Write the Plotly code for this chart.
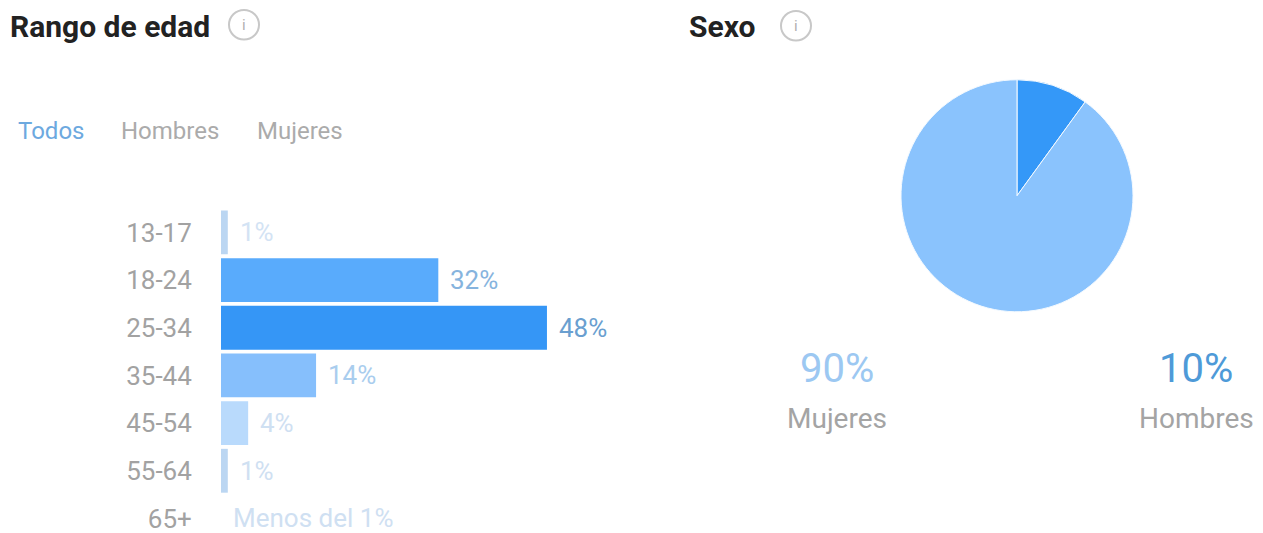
import plotly.graph_objects as go

WIDTH, HEIGHT = 1263, 533

# Age ranges (share of audience, %)
age_ranges = ["13-17", "18-24", "25-34", "35-44", "45-54", "55-64", "65+"]
age_values = [1, 32, 48, 14, 4, 1, 0]
age_labels = ["1%", "32%", "48%", "14%", "4%", "1%", "Menos del 1%"]
bar_colors = ["#BBD6F2", "#59ABFC", "#3596F6", "#86BFFC", "#B9DAFC", "#BBD6F2", "#BBD6F2"]
label_colors = ["#D3E3F4", "#86B4DE", "#6A9FD0", "#A9CDEE", "#CFE0F2", "#CFE0F2", "#CFE0F2"]

# Gender split (%)
sex_names = ["Hombres", "Mujeres"]
sex_values = [10, 90]
sex_colors = ["#3498F8", "#8AC3FD"]
sex_value_colors = ["#4E9AD8", "#9CC8F2"]

tab_names = ["Todos", "Hombres", "Mujeres"]
tab_colors = ["#6DA9DF", "#ABABAB", "#ABABAB"]

FONT = "Roboto"


def px(x):
    return x / WIDTH


def py(y):
    return 1 - y / HEIGHT


def text(x, y, s, size, color, anchor="left", bold=False):
    return dict(
        x=px(x), y=py(y), xref="paper", yref="paper", text=f"<b>{s}</b>" if bold else s,
        showarrow=False, xanchor=anchor, yanchor="middle", borderpad=0,
        font=dict(family=FONT, size=size, color=color),
    )


fig = go.Figure()

fig.add_bar(
    x=age_values, y=age_ranges, orientation="h",
    marker=dict(color=bar_colors, line_width=0),
    hoverinfo="skip", showlegend=False,
)

fig.add_pie(
    labels=sex_names, values=sex_values, sort=False, direction="clockwise", rotation=0,
    marker=dict(colors=sex_colors, line=dict(color="#F4FAFF", width=1)),
    textinfo="none", hoverinfo="skip", showlegend=False,
    domain=dict(x=[px(901), px(1133)], y=[py(316), py(80)]),
)

annotations = [
    text(9, 27, "Rango de edad", 30, "#222222", bold=True),
    text(688, 27, "Sexo", 30, "#222222", bold=True),
    text(244, 25, "i", 15, "#B0B0B0", "center"),
    text(796, 26, "i", 15, "#B0B0B0", "center"),
]

for name, color, x in zip(tab_names, tab_colors, [17, 120, 256]):
    annotations.append(text(x, 132, name, 24, color))

# Value labels sit just past the end of each bar
for name, value, label, color in zip(age_ranges, age_values, age_labels, label_colors):
    annotations.append(dict(
        x=value, y=name, xref="x", yref="y", text=label, showarrow=False,
        xanchor="left", yanchor="middle", xshift=11, borderpad=0,
        font=dict(family=FONT, size=26, color=color),
    ))

for name, value, vcolor, x in zip(sex_names, sex_values, sex_value_colors, [1196, 837]):
    annotations.append(text(x, 373, f"{value}%", 40, vcolor, "center"))
    annotations.append(text(x, 423, name, 28, "#A4A4A4", "center"))

shapes = [
    dict(type="circle", xref="paper", yref="paper",
         x0=px(cx - 15), x1=px(cx + 15), y0=py(cy + 15), y1=py(cy - 15),
         line=dict(color="#C8C8C8", width=2), fillcolor="rgba(0,0,0,0)")
    for cx, cy in ((244, 25), (796, 26))
]

fig.update_layout(
    width=WIDTH, height=HEIGHT, margin=dict(l=0, r=0, t=0, b=0),
    paper_bgcolor="white", plot_bgcolor="white",
    bargap=0.08, annotations=annotations, shapes=shapes,
    xaxis=dict(domain=[px(221), px(640)], range=[0, 61.7], visible=False, fixedrange=True),
    yaxis=dict(
        type="category", range=[6.18, -0.5], domain=[0, py(211)],
        anchor="free", position=px(221),
        categoryorder="array", categoryarray=age_ranges,
        showgrid=False, zeroline=False, showline=False, ticks="outside", ticklen=24,
        tickcolor="rgba(0,0,0,0)", tickfont=dict(family=FONT, size=26, color="#A2A2A2"),
        fixedrange=True,
    ),
)

fig.write_html("out.html", config=dict(displayModeBar=False))
